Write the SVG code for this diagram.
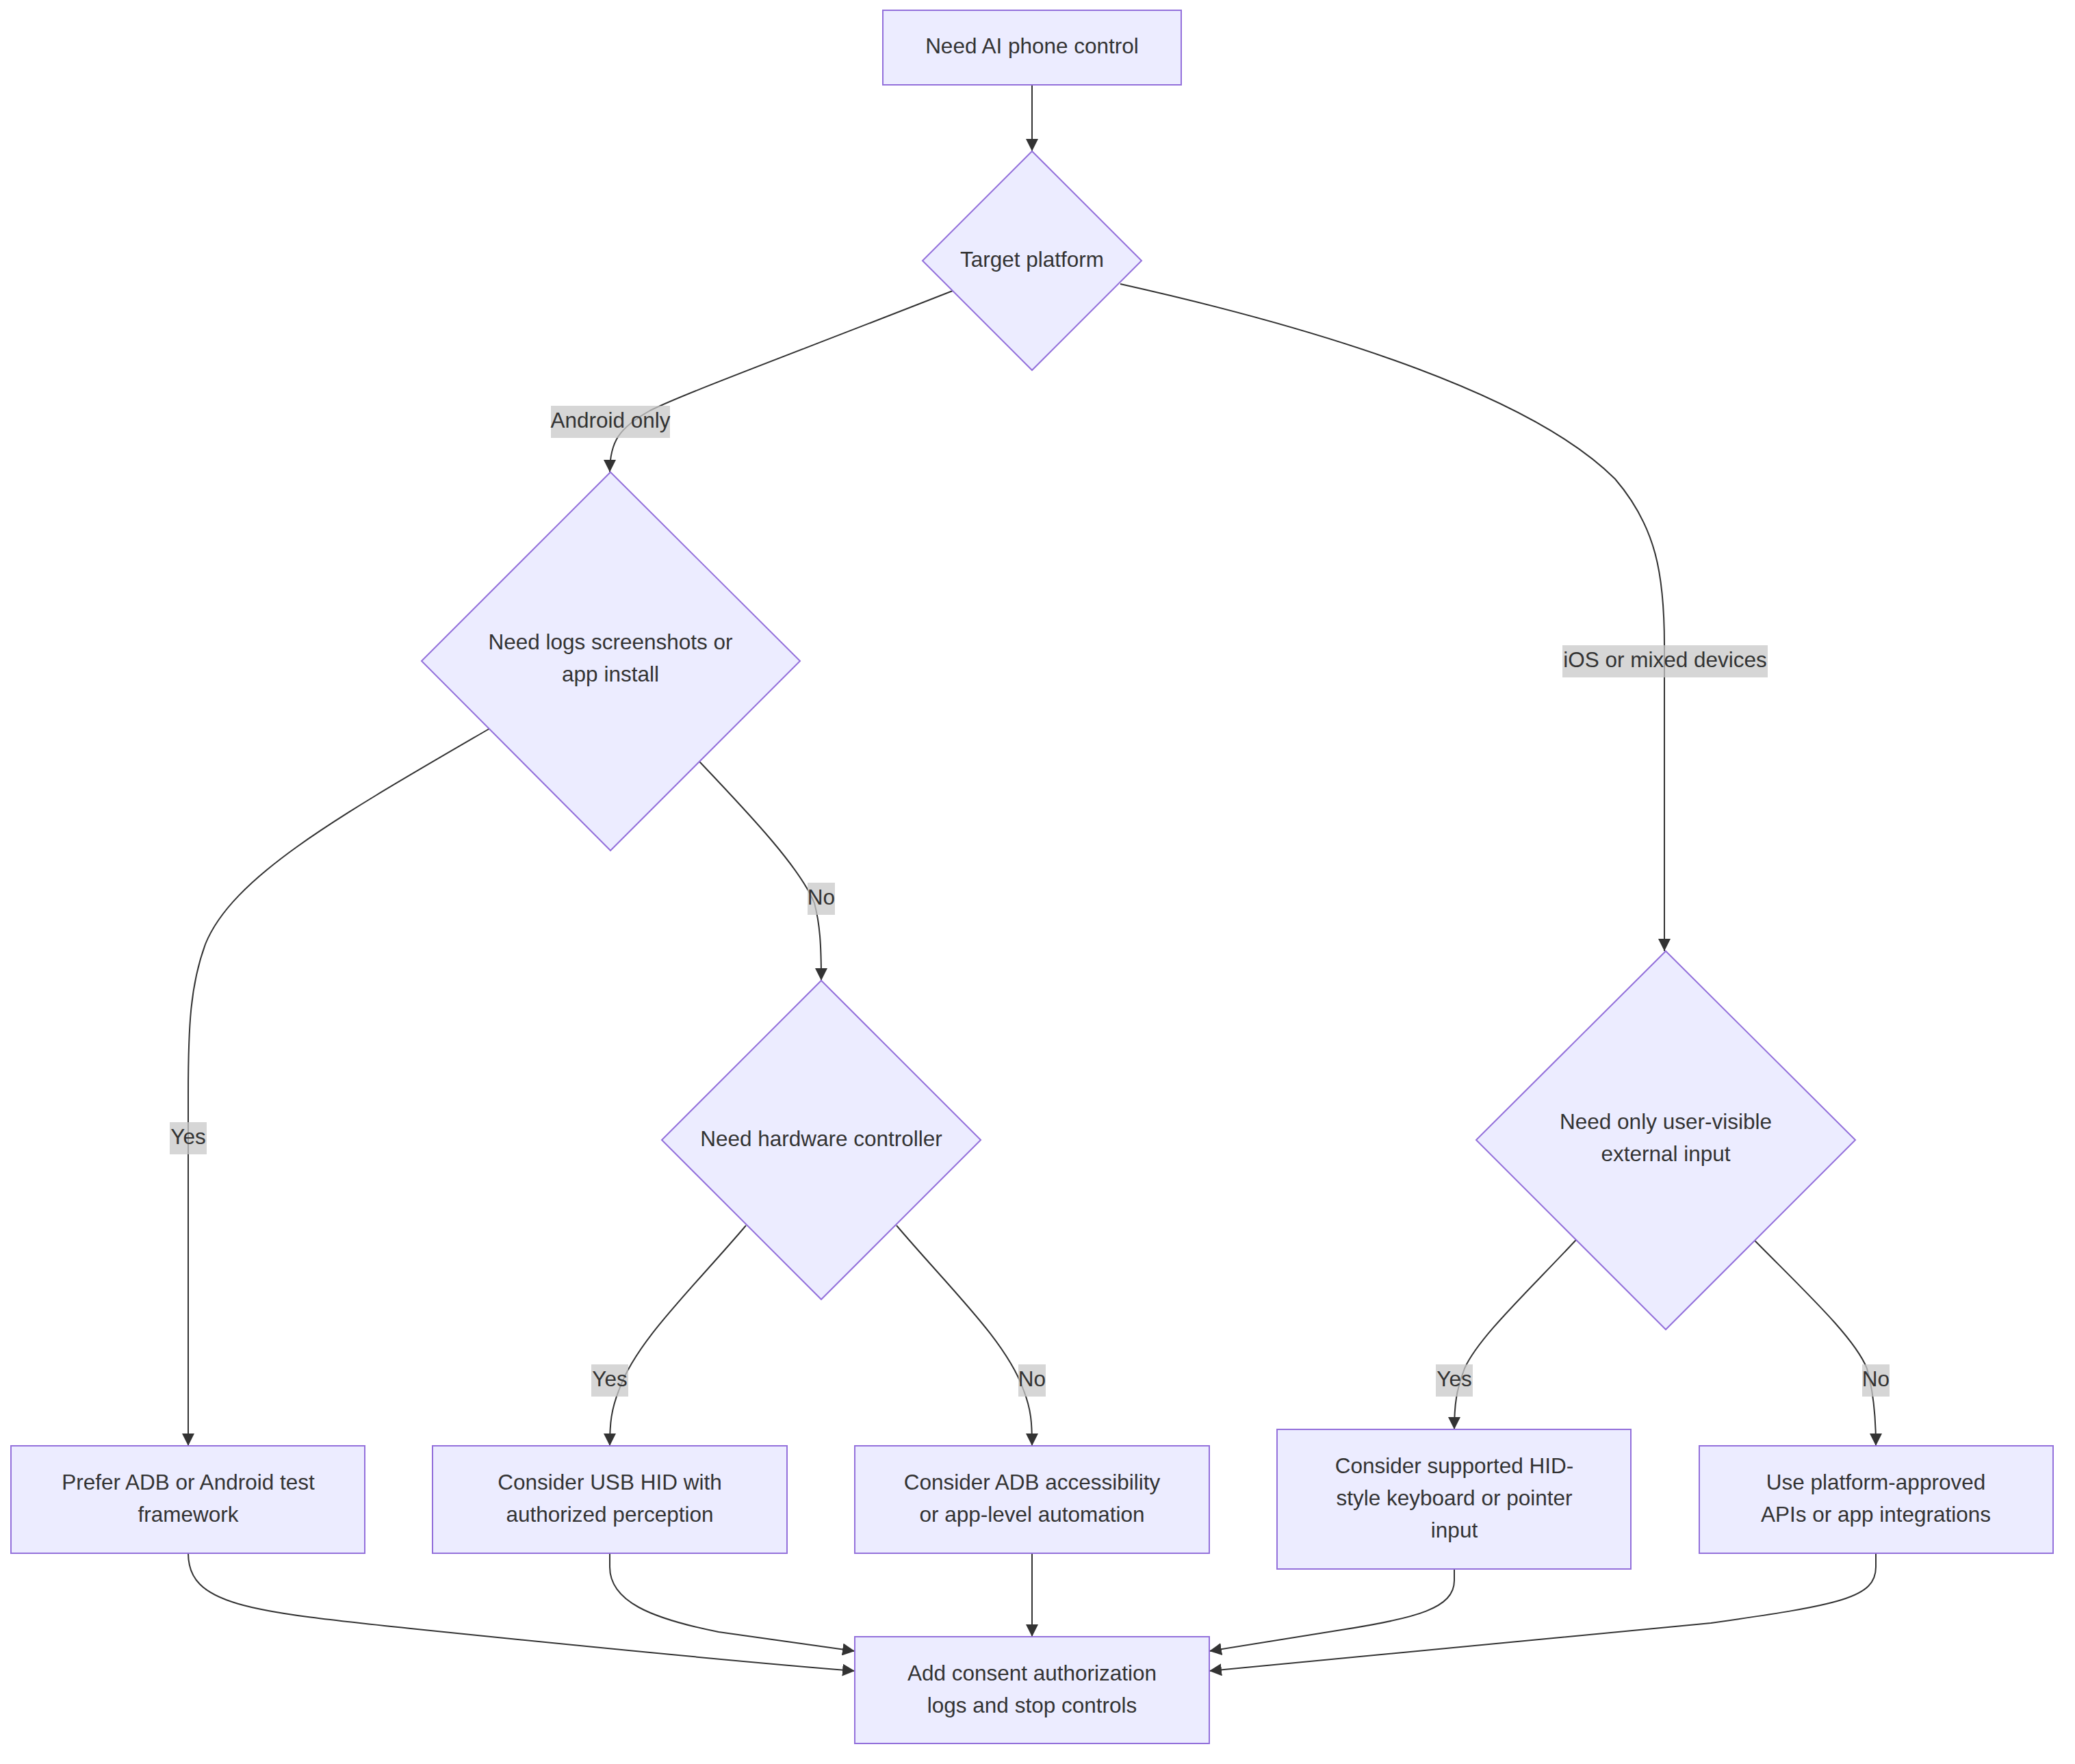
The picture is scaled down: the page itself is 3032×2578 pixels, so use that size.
<svg xmlns="http://www.w3.org/2000/svg" width="3032" height="2578" viewBox="0 0 3032 2578">
<style>
.node{fill:#ECECFF;stroke:#9370DB;stroke-width:2}
.t{font-family:"Liberation Sans",Arial,sans-serif;font-size:31.5px;fill:#333333;text-anchor:middle;dominant-baseline:central}
.edge{fill:none;stroke:#333333;stroke-width:2}
.lbg{fill:rgb(200,200,200);fill-opacity:0.75}
</style>
<defs>
<marker id="arr" viewBox="0 0 10 10" refX="10" refY="5" markerWidth="18" markerHeight="18" markerUnits="userSpaceOnUse" orient="auto">
<path d="M0,0 L10,5 L0,10 z" fill="#333333"/>
</marker>
</defs>
<rect width="3032" height="2578" fill="#ffffff"/>
<g id="connectors">
<path class="edge" marker-end="url(#arr)" d="M1508,124 L1508,221"/>
<path class="edge" marker-end="url(#arr)" d="M1392,425 C1150,520 1000,575 950,600 C905,625 891,645 891,690"/>
<path class="edge" marker-end="url(#arr)" d="M1637,415 C1950,485 2240,580 2360,700 C2420,770 2432,840 2432,943 L2432,1390"/>
<path class="edge" marker-end="url(#arr)" d="M715,1065 C500,1190 340,1280 300,1380 C278,1440 275,1500 275,1600 L275,2113"/>
<path class="edge" marker-end="url(#arr)" d="M1022,1113 C1100,1195 1170,1270 1190,1320 C1198,1350 1200,1380 1200,1433"/>
<path class="edge" marker-end="url(#arr)" d="M1090,1791 C1010,1885 930,1960 905,2030 C893,2060 891,2080 891,2113"/>
<path class="edge" marker-end="url(#arr)" d="M1310,1791 C1390,1885 1470,1960 1495,2030 C1507,2060 1508,2080 1508,2113"/>
<path class="edge" marker-end="url(#arr)" d="M2303,1812 C2230,1890 2160,1955 2140,2000 C2128,2030 2125,2055 2125,2089"/>
<path class="edge" marker-end="url(#arr)" d="M2563,1812 C2640,1890 2710,1955 2728,2000 C2738,2035 2741,2070 2741,2113"/>
<path class="edge" marker-end="url(#arr)" d="M275,2270 C275,2345 360,2355 600,2380 C900,2411 1100,2430 1249,2442"/>
<path class="edge" marker-end="url(#arr)" d="M891,2270 L891,2290 C891,2340 950,2365 1050,2385 L1249,2413"/>
<path class="edge" marker-end="url(#arr)" d="M1508,2270 L1508,2392"/>
<path class="edge" marker-end="url(#arr)" d="M2125,2293 L2125,2310 C2125,2350 2070,2365 1960,2382 L1767,2413"/>
<path class="edge" marker-end="url(#arr)" d="M2741,2270 L2741,2290 C2741,2335 2690,2345 2500,2372 L1767,2442"/>
<g id="edge-labels">
<rect class="lbg" x="805" y="593" width="174" height="47"/><text class="t" x="892" y="614">Android only</text>
<rect class="lbg" x="2283" y="943" width="300" height="47"/><text class="t" x="2433" y="964">iOS or mixed devices</text>
<rect class="lbg" x="248" y="1640" width="54" height="47"/><text class="t" x="275" y="1661">Yes</text>
<rect class="lbg" x="1180" y="1290" width="40" height="47"/><text class="t" x="1200" y="1311">No</text>
<rect class="lbg" x="864" y="1994" width="54" height="47"/><text class="t" x="891" y="2015">Yes</text>
<rect class="lbg" x="1488" y="1994" width="40" height="47"/><text class="t" x="1508" y="2015">No</text>
<rect class="lbg" x="2098" y="1994" width="54" height="47"/><text class="t" x="2125" y="2015">Yes</text>
<rect class="lbg" x="2721" y="1994" width="40" height="47"/><text class="t" x="2741" y="2015">No</text>
</g>
</g>
<g id="nodeA"><rect class="node" x="1290" y="15" width="436" height="109"/><text class="t" x="1508" y="67">Need AI phone control</text></g>
<g id="nodeB"><polygon class="node" points="1508,221 1668,381 1508,541 1348,381"/><text class="t" x="1508" y="379">Target platform</text></g>
<g id="nodeC"><polygon class="node" points="892,690 1169,966 892,1243 616,966"/><text class="t" x="892" y="938">Need logs screenshots or</text><text class="t" x="892" y="985">app install</text></g>
<g id="nodeD"><polygon class="node" points="2434,1390 2711,1666 2434,1943 2157,1666"/><text class="t" x="2434" y="1639">Need only user-visible</text><text class="t" x="2434" y="1686">external input</text></g>
<g id="nodeF"><polygon class="node" points="1200,1433 1433,1666 1200,1899 967,1666"/><text class="t" x="1200" y="1664">Need hardware controller</text></g>
<g id="nodeG"><rect class="node" x="16" y="2113" width="517" height="157"/><text class="t" x="275" y="2166">Prefer ADB or Android test</text><text class="t" x="275" y="2213">framework</text></g>
<g id="nodeH"><rect class="node" x="632" y="2113" width="518" height="157"/><text class="t" x="891" y="2166">Consider USB HID with</text><text class="t" x="891" y="2213">authorized perception</text></g>
<g id="nodeI"><rect class="node" x="1249" y="2113" width="518" height="157"/><text class="t" x="1508" y="2166">Consider ADB accessibility</text><text class="t" x="1508" y="2213">or app-level automation</text></g>
<g id="nodeJ"><rect class="node" x="1866" y="2089" width="517" height="204"/><text class="t" x="2125" y="2142">Consider supported HID-</text><text class="t" x="2125" y="2189">style keyboard or pointer</text><text class="t" x="2125" y="2236">input</text></g>
<g id="nodeK"><rect class="node" x="2483" y="2113" width="517" height="157"/><text class="t" x="2741" y="2166">Use platform-approved</text><text class="t" x="2741" y="2213">APIs or app integrations</text></g>
<g id="nodeL"><rect class="node" x="1249" y="2392" width="518" height="156"/><text class="t" x="1508" y="2445">Add consent authorization</text><text class="t" x="1508" y="2492">logs and stop controls</text></g>
</svg>
